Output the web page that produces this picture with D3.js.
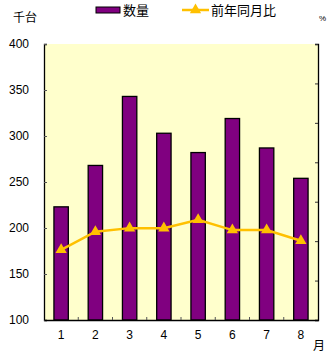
<!DOCTYPE html>
<html>
<head>
<meta charset="utf-8">
<script src="https://cdn.jsdelivr.net/npm/d3@7"></script>
<style>
  html, body { margin: 0; padding: 0; background: #fff; }
  svg { display: block; }
  text { font-family: "Liberation Sans", Arial, sans-serif; fill: #000; }
  .jp { font-family: "Noto Sans CJK JP", sans-serif; }
</style>
</head>
<body>
<script>
// Monthly volume (thousand units) and year-over-year ratio (%)
const months = ["1", "2", "3", "4", "5", "6", "7", "8"];
const volume = [223, 268, 343, 303, 282, 319, 287, 254];
const yoyRatio = [87.8, 92.4, 93.3, 93.3, 95.4, 92.8, 92.8, 90.1];
const leftTicks = [100, 150, 200, 250, 300, 350, 400];
const rightTicks = [70, 80, 90, 100, 110, 120, 130, 140];

const W = 327, H = 355;
const m = { left: 44, right: 9, top: 44, bottom: 35 };
const innerW = W - m.left - m.right;
const innerH = H - m.top - m.bottom;

const svg = d3.select("body").append("svg")
  .attr("width", W).attr("height", H);

const x = d3.scaleBand().domain(months).range([m.left, m.left + innerW]).paddingInner(0.58).paddingOuter(0.29);
const yL = d3.scaleLinear().domain([100, 400]).range([m.top + innerH, m.top]);
const yR = d3.scaleLinear().domain([70, 140]).range([m.top + innerH, m.top]);

// plot background
svg.append("rect")
  .attr("x", m.left).attr("y", m.top)
  .attr("width", innerW).attr("height", innerH)
  .attr("fill", "#FFFFCC");

// bars
svg.append("g").selectAll("rect").data(volume).join("rect")
  .attr("x", (d, i) => x(months[i]))
  .attr("y", d => yL(d))
  .attr("width", x.bandwidth())
  .attr("height", d => yL(100) - yL(d))
  .attr("fill", "#800080")
  .attr("stroke", "#000")
  .attr("stroke-width", 1.3);

// left axis
const axL = d3.axisLeft(yL).tickValues(leftTicks).tickSize(-3).tickPadding(15);
const gL = svg.append("g").attr("transform", `translate(${m.left},0)`).call(axL);
gL.select(".domain").attr("stroke", "#000").attr("stroke-width", 1.3);
gL.selectAll(".tick line").attr("stroke", "#555");
gL.selectAll(".tick text").attr("font-size", 12).attr("font-family", "Liberation Sans, Arial, sans-serif");

// right axis (labels fall outside the canvas)
const axR = d3.axisRight(yR).tickValues(rightTicks).tickSize(-3).tickFormat("");
const gR = svg.append("g").attr("transform", `translate(${m.left + innerW},0)`).call(axR);
gR.select(".domain").attr("stroke", "#000").attr("stroke-width", 1.3);
gR.selectAll(".tick line").attr("stroke", "#333");

// bottom axis
const axB = d3.axisBottom(x).tickSize(0).tickPadding(10);
const gB = svg.append("g").attr("transform", `translate(0,${m.top + innerH})`).call(axB);
gB.select(".domain").attr("stroke", "#000").attr("stroke-width", 1.3);
gB.selectAll(".tick text").attr("font-size", 12).attr("font-family", "Liberation Sans, Arial, sans-serif");
// category separators
svg.append("g").selectAll("line").data(d3.range(1, months.length)).join("line")
  .attr("x1", d => m.left + d * innerW / months.length)
  .attr("x2", d => m.left + d * innerW / months.length)
  .attr("y1", m.top + innerH).attr("y2", m.top + innerH - 3)
  .attr("stroke", "#555");

// ratio line
const cx = (d, i) => x(months[i]) + x.bandwidth() / 2;
svg.append("path")
  .datum(yoyRatio)
  .attr("d", d3.line().x(cx).y(d => yR(d)))
  .attr("fill", "none")
  .attr("stroke", "#FFC000")
  .attr("stroke-width", 2.5);

const tri = d3.symbol().type(d3.symbolTriangle).size(55);
svg.append("g").selectAll("path").data(yoyRatio).join("path")
  .attr("d", tri)
  .attr("transform", (d, i) => `translate(${cx(d, i)},${yR(d)})`)
  .attr("fill", "#FFC000");

// unit labels
svg.append("text").attr("class", "jp").attr("x", 13).attr("y", 22)
  .attr("font-size", 12).text("千台");
svg.append("text").attr("class", "jp").attr("x", 313).attr("y", 350)
  .attr("font-size", 12).text("月");
svg.append("text").attr("x", 319).attr("y", 21)
  .attr("font-size", 8).text("%");

// legend
const lg = svg.append("g");
lg.append("rect").attr("x", 96).attr("y", 7).attr("width", 24).attr("height", 6)
  .attr("fill", "#800080").attr("stroke", "#000").attr("stroke-width", 1);
lg.append("text").attr("class", "jp").attr("x", 123).attr("y", 15)
  .attr("font-size", 13).text("数量");
lg.append("line").attr("x1", 182).attr("x2", 209).attr("y1", 10).attr("y2", 10)
  .attr("stroke", "#FFC000").attr("stroke-width", 2.5);
lg.append("path").attr("d", tri).attr("transform", "translate(195.5,10)").attr("fill", "#FFC000");
lg.append("text").attr("class", "jp").attr("x", 211).attr("y", 15)
  .attr("font-size", 13).text("前年同月比");
</script>
</body>
</html>
